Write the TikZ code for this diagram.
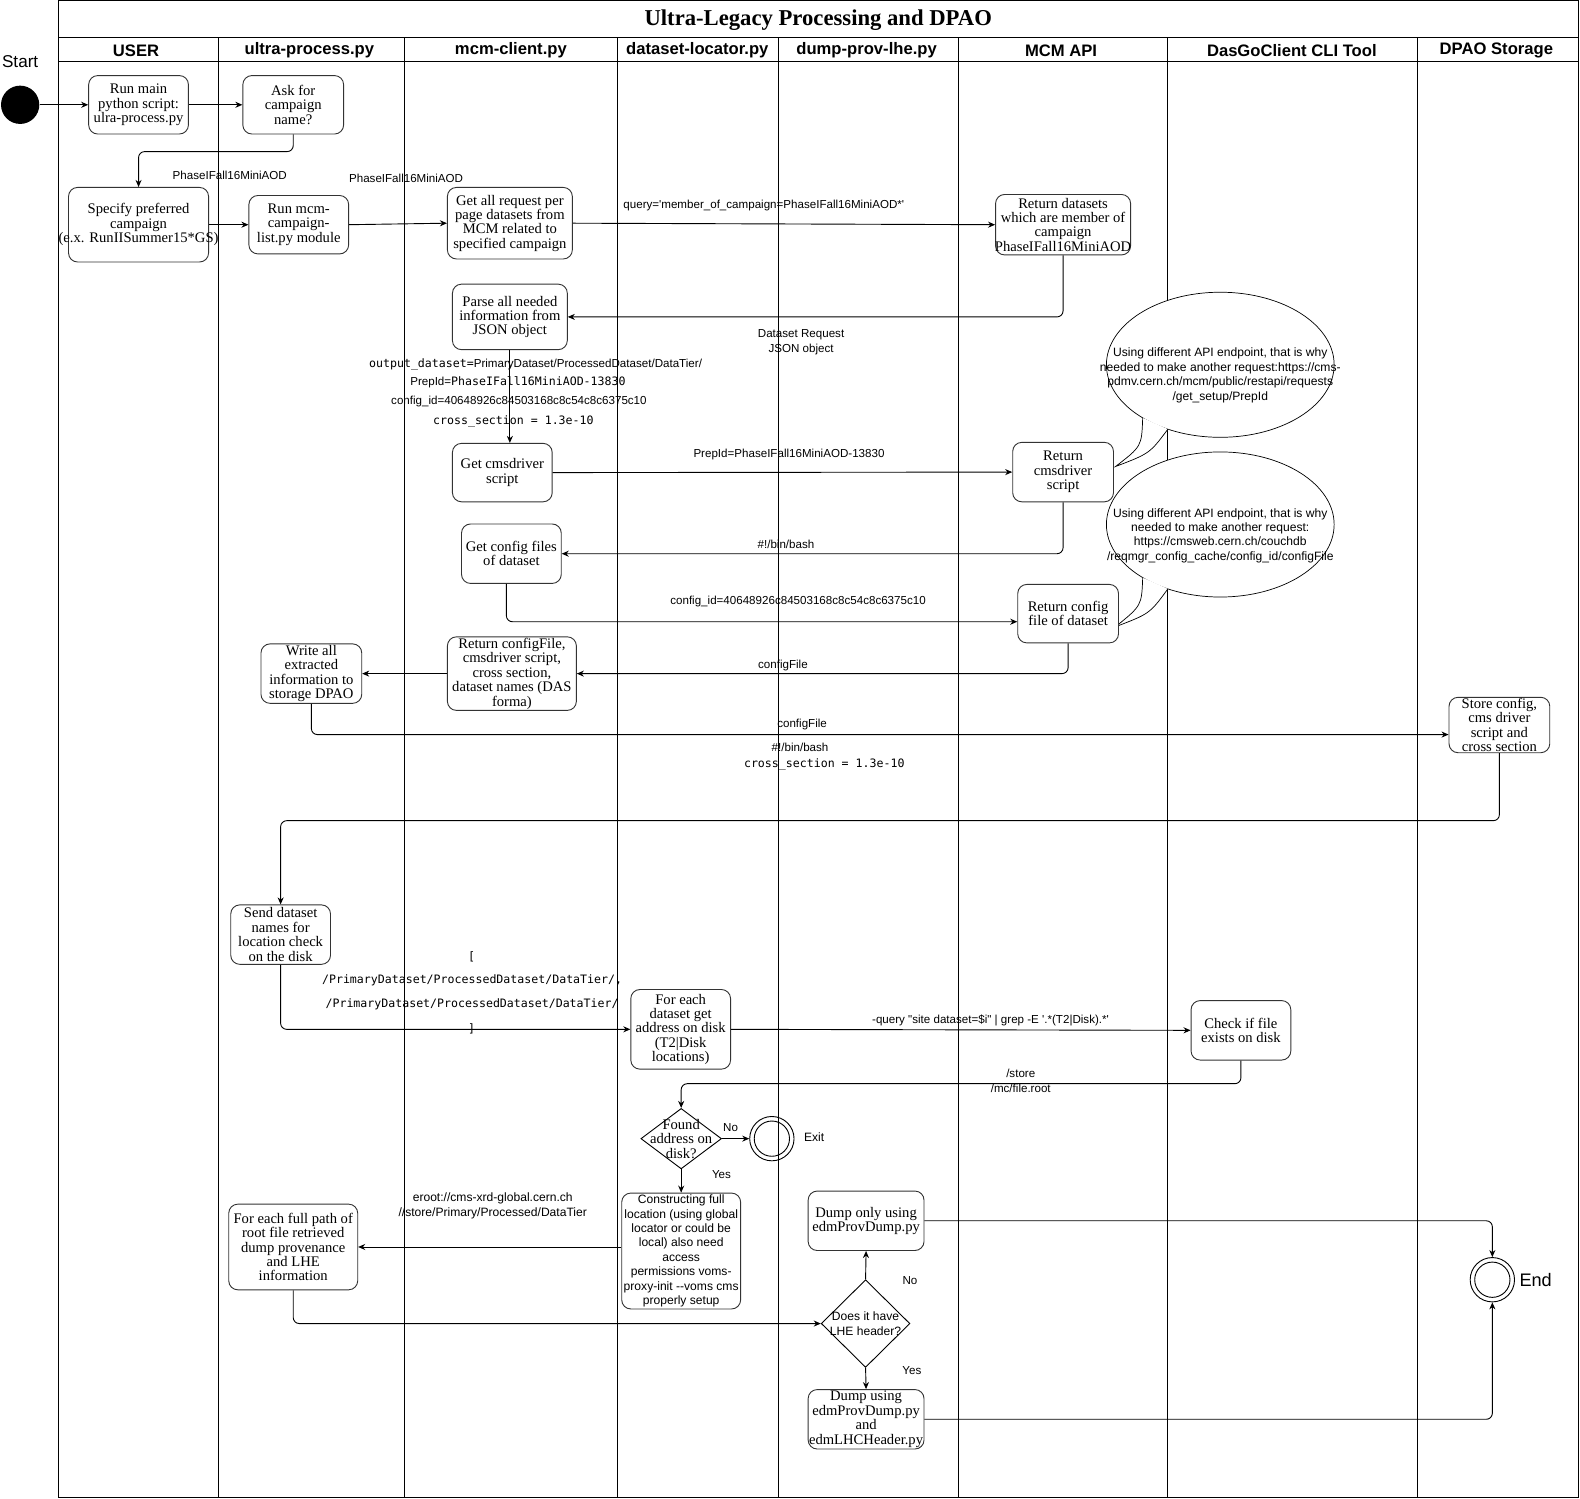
\documentclass[tikz,border=0pt]{standalone}
\usepackage{fontspec}
\setmainfont{Liberation Serif}
\newfontfamily\sansF{Liberation Sans}
\newfontfamily\monoF{DejaVu Sans Mono}
\usetikzlibrary{arrows.meta,shapes.geometric,calc}
\newcommand{\setfs}[2]{\fontsize{#1}{#2}\selectfont}
\newcommand{\mybox}[7][]{%
  \node[box, minimum width=#5, minimum height=#6] (#2) at (#3,#4) {};
  \node[btext,#1] (#2t) at (#2.center) {#7};}
\begin{document}
\begin{tikzpicture}[x=1pt,y=-1pt,
  box/.style={draw=black!80, line width=0.9pt, rounded corners=9pt, fill=white, inner sep=0pt},
  btext/.style={align=center, inner sep=0pt, font=\setfs{14.5}{14.3}},
  sanstext/.style={font=\sansF\setfs{12}{14.3}},
  lane/.style={line width=0.8pt},
  arr/.style={line width=0.9pt, -{Stealth[length=7pt,width=6pt]}, rounded corners=6pt},
  lbl/.style={inner sep=0pt, align=center, font=\sansF\setfs{11.5}{14.5}},
  mlbl/.style={inner sep=0pt, align=center, font=\monoF\setfs{11.5}{14}},
  hdr/.style={inner sep=0pt, font=\sansF\bfseries\setfs{16.5}{18}},
  dia/.style={diamond, draw, line width=0.9pt, inner sep=0pt, fill=white},
  balloon/.style={ellipse, draw, line width=0.7pt, fill=white, inner sep=0pt, minimum width=226, minimum height=144},
  btxt/.style={inner sep=0pt, align=center, font=\sansF\setfs{12}{14.3}},
]
\useasboundingbox (0,0) rectangle (1568,1487);

% frame and lanes
\draw[line width=1pt] (58,0.8) rectangle (1566,1486);
\draw[lane] (58,37) -- (1566,37);
\draw[lane] (58,61) -- (1566,61);
\foreach \x in {217,401,613,772,951,1159,1407} \draw[lane] (\x,37) -- (\x,1486);

\node[inner sep=0pt, font=\bfseries\setfs{22.5}{24}] (title) at (812,19.5) {Ultra-Legacy Processing and DPAO};
\node[hdr] (h1) at (135,50) {USER};
\node[hdr] (h2) at (307,50) {ultra-process.py};
\node[hdr] (h3) at (507,50) {mcm-client.py};
\node[hdr] (h4) at (692,50) {dataset-locator.py};
\node[hdr] (h5) at (860,50) {dump-prov-lhe.py};
\node[hdr] (h6) at (1053,50) {MCM API};
\node[hdr] (h7) at (1282,50) {DasGoClient CLI Tool};
\node[hdr] (h8) at (1485,50) {DPAO Storage};

% balloons
\node[balloon] (b1) at (1211,362) {};
\fill[white] (1134,414.7) .. controls (1133,443) .. (1107,463) .. controls (1141,450) .. (1159,425.9) -- cycle;
\draw[line width=0.7pt] (1134,414.7) .. controls (1133,443) .. (1107,463) .. controls (1141,450) .. (1159,425.9);
\node[btxt] (b1t) at (1211,372.5) {Using different API endpoint, that is why\\needed to make another request:https://cms-\\pdmv.cern.ch/mcm/public/restapi/requests\\/get\_setup/PrepId};

\node[balloon] (b2) at (1211,520.5) {};
\fill[white] (1134,573.2) .. controls (1133,601) .. (1107,622) .. controls (1141,609) .. (1159,584.4) -- cycle;
\draw[line width=0.7pt] (1134,573.2) .. controls (1133,601) .. (1107,622) .. controls (1141,609) .. (1159,584.4);
\node[btxt] (b2t) at (1211,531.5) {Using different API endpoint, that is why\\needed to make another request:\\https://cmsweb.cern.ch/couchdb\\/reqmgr\_config\_cache/config\_id/configFile};

% start / end
\node[inner sep=0pt, font=\sansF\setfs{17}{20}] (startl) at (20,61) {Start};
\node[circle, fill=black, minimum size=38, inner sep=0pt] (start) at (20,104) {};

% boxes
\mybox{n1}{137.5}{104}{99}{58}{Run main\\python script:\\ulra-process.py}
\mybox{n2}{291}{104}{100}{58}{Ask for\\campaign\\name?}
\mybox{n3}{137.5}{223}{139}{74}{Specify preferred\\campaign\\(e.x. RunIISummer15*GS)}
\mybox{n4}{296.5}{223}{99}{58}{Run mcm-\\campaign-\\list.py module}
\mybox{n5}{506}{221.5}{124}{71}{Get all request per\\page datasets from\\MCM related to\\specified campaign}
\mybox{n6}{1055}{223}{134}{60}{Return datasets\\which are member of\\campaign\\PhaseIFall16MiniAOD}
\mybox{n7}{506}{314.5}{114}{65}{Parse all needed\\information from\\JSON object}
\mybox{n8}{498.5}{469}{99}{58}{Get cmsdriver\\script}
\mybox{n9}{1055}{468.5}{100}{59}{Return\\cmsdriver\\script}
\mybox{n10}{507.5}{549.5}{99}{59}{Get config files\\of dataset}
\mybox{n11}{1060}{609}{100}{58}{Return config\\file of dataset}
\mybox{n12}{508}{668.5}{128}{73}{Return configFile,\\cmsdriver script,\\cross section,\\dataset names (DAS\\forma)}
\mybox{n13}{309}{668.5}{100}{59}{Write all\\extracted\\information to\\storage DPAO}
\mybox{n14}{1488}{719.5}{100}{55}{Store config,\\cms driver\\script and\\cross section}
\mybox{n15}{278.5}{927.5}{99}{59}{Send dataset\\names for\\location check\\on the disk}
\mybox{n16}{675.5}{1021.5}{99}{79}{For each\\dataset get\\address on disk\\(T2|Disk\\locations)}
\mybox{n17}{1231.5}{1022.5}{99}{59}{Check if file\\exists on disk}
\mybox[sanstext]{n18}{676}{1241.5}{118}{115}{Constructing full\\location (using global\\locator or could be\\local) also need\\access\\permissions voms-\\proxy-init -{}-voms cms\\properly setup}
\mybox{n19}{291}{1237.5}{128}{85}{For each full path of\\root file retrieved\\dump provenance\\and LHE\\information}
\mybox{n20}{859.5}{1211.5}{115}{59}{Dump only using\\edmProvDump.py}
\mybox{n21}{859.5}{1408.5}{115}{59}{Dump using\\edmProvDump.py\\and\\edmLHCHeader.py}

% decisions
\node[dia, minimum width=80, minimum height=60] (d1) at (676,1130) {};
\node[btext] (d1t) at (d1.center) {Found\\address on\\disk?};
\node[dia, minimum width=88, minimum height=87] (d2) at (859,1313.5) {};
\node[btxt] (d2t) at (d2.center) {Does it have\\LHE header?};

% exit / end circles
\node[circle, draw, line width=0.9pt, minimum size=44, inner sep=0pt] (exit) at (766,1130) {};
\node[circle, draw, line width=0.9pt, minimum size=35, inner sep=0pt] (exitin) at (exit.center) {};
\node[inner sep=0pt, font=\sansF\setfs{12}{14}] (exitl) at (808,1129) {Exit};
\node[circle, draw, line width=0.9pt, minimum size=44, inner sep=0pt] (end) at (1481,1270) {};
\node[circle, draw, line width=0.9pt, minimum size=35, inner sep=0pt] (endin) at (end.center) {};
\node[inner sep=0pt, font=\sansF\setfs{18}{20}] (endl) at (1524,1270) {End};

% connectors
\draw[arr] (start.east) -- (n1.west);
\draw[arr] (n1.east) -- (n2.west);
\draw[arr] (n2.south) -- ++(0,17) -| (n3.north);
\draw[arr] (n3.east) -- (n4.west);
\draw[arr] (n4.east) -- (n5.west);
\draw[arr] (n5.east) -- (n6.west);
\draw[arr] (n6.south) |- (n7.east);
\draw[arr] (n7.south) -- (n7.south |- n8.north);
\draw[arr] (n8.east) -- (n9.west);
\draw[arr] (n9.south) |- (n10.east);
\draw[arr] ($(n10.south)+(-5,0)$) |- ($(n11.west)+(0,8)$);
\draw[arr] (n11.south) |- (n12.east);
\draw[arr] (n12.west) -- (n13.east);
\draw[arr] (n13.south) |- ($(n14.west)+(0,9.5)$);
\draw[arr] (n14.south) -- ++(0,67) -| (n15.north);
\draw[arr] (n15.south) |- (n16.west);
\draw[arr] (n16.east) -- (n17.west);
\draw[arr] (n17.south) -- ++(0,23) -| (d1.north);
\draw[arr] (d1.east) -- (exit.west);
\draw[arr] (d1.south) -- (n18.north);
\draw[arr] (n19.east -| n18.west) -- (n19.east);
\draw[arr] (n19.south) |- (d2.west);
\draw[arr] (d2.north) -- (n20.south);
\draw[arr] (d2.south) -- (n21.north);
\draw[arr] (n20.east) -| (end.north);
\draw[arr] (n21.east) -| (end.south);

% labels
\node[lbl] (lA) at (228,174) {PhaseIFall16MiniAOD};
\node[lbl] (lB) at (403,177) {PhaseIFall16MiniAOD};
\node[lbl] (lC) at (758,204) {query='member\_of\_campaign=PhaseIFall16MiniAOD*'};
\node[lbl] (lD) at (795,339.5) {Dataset Request\\JSON object};
\node[lbl] (lE1) at (531.5,362) {{\monoF output\_dataset=}PrimaryDataset/ProcessedDataset/DataTier/};
\node[lbl] (lE2) at (514,379) {PrepId={\monoF PhaseIFall16MiniAOD-13830}};
\node[lbl] (lE3) at (515,398) {config\_id=40648926c84503168c8c54c8c6375c10};
\node[mlbl] (lE4) at (509.5,418) {cross\_section = 1.3e-10};
\node[lbl] (lF) at (783,451) {PrepId=PhaseIFall16MiniAOD-13830};
\node[lbl] (lG) at (780,540) {\#!/bin/bash};
\node[lbl] (lH) at (792,597) {config\_id=40648926c84503168c8c54c8c6375c10};
\node[lbl] (lI) at (777,660) {configFile};
\node[lbl] (lJ) at (796,719) {configFile};
\node[lbl] (lK) at (794,742) {\#!/bin/bash};
\node[mlbl] (lL) at (818,759) {cross\_section = 1.3e-10};
\node[mlbl] (lM1) at (468,950) {[};
\node[mlbl] (lM2) at (468.5,973) {/PrimaryDataset/ProcessedDataset/DataTier/,};
\node[mlbl] (lM3) at (468.5,997) {/PrimaryDataset/ProcessedDataset/DataTier/};
\node[mlbl] (lM4) at (468,1021) {]};
\node[lbl] (lN) at (983,1013) {-query "site dataset=\$i" | grep -E '.*(T2|Disk).*'};
\node[lbl] (lO) at (1013,1072.5) {/store\\/mc/file.root};
\node[lbl] (lP) at (725,1119) {No};
\node[lbl] (lQ) at (716,1166) {Yes};
\node[lbl, font=\sansF\setfs{12}{15}] (lR) at (489,1196.5) {eroot://cms-xrd-global.cern.ch\\//store/Primary/Processed/DataTier};
\node[lbl] (lS) at (903,1271) {No};
\node[lbl] (lT) at (905,1360) {Yes};
\end{tikzpicture}
\end{document}
